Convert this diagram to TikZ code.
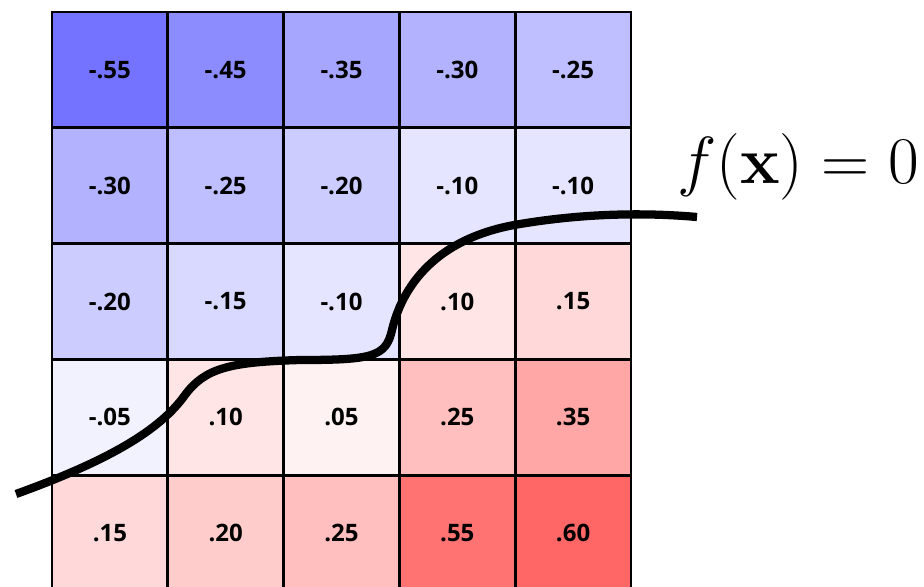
\RequirePackage{fix-cm}
\documentclass[tikz,border=0pt]{standalone}
\usepackage[no-math]{fontspec}
\setsansfont{Open Sans}
\begin{document}
\begin{tikzpicture}[x=0.75pt,y=-0.75pt,
  cell/.style={draw=black, line width=2.2pt, minimum width=115.8*0.75pt, minimum height=115.8*0.75pt, inner sep=0pt, font=\sffamily\bfseries\fontsize{18}{21}\selectfont},
  boundary/.style={line width=6.2pt, black}]
\clip (0,0) rectangle (924,586);
\def\cs{115.8}
\foreach \row/\vals in {1/{-55,-45,-35,-30,-25},2/{-30,-25,-20,-10,-10},3/{-20,-15,-10,10,15},4/{-5,10,5,25,35},5/{15,20,25,55,60}}{
  \foreach \v [count=\col] in \vals {
    \pgfmathsetmacro{\cx}{52+(\col-0.5)*\cs}
    \pgfmathsetmacro{\cy}{12+(\row-0.5)*\cs}
    \pgfmathtruncatemacro{\av}{abs(\v)}
    \ifnum\v<0
      \def\cc{blue!\av!white}
      \ifnum\av<10 \def\lbl{-.0\av}\else \def\lbl{-.\av}\fi
    \else
      \def\cc{red!\av!white}
      \ifnum\av<10 \def\lbl{.0\av}\else \def\lbl{.\av}\fi
    \fi
    \node[cell, fill=\cc] (c-\row-\col) at (\cx,\cy) {\lbl};
  }
}
\draw[boundary] (16,494) .. controls (110,460) and (160,430) .. (185,395)
  .. controls (205,368) and (230,362) .. (300,360)
  .. controls (372,360) and (386,357) .. (392,330)
  .. controls (398,305) and (420,240) .. (520,224)
  .. controls (580,214) and (640,212) .. (697,217);
\node[anchor=base, inner sep=0pt, font=\fontsize{50}{60}\selectfont] (eq) at (798,183) {$f(\mathbf{x}) = 0$};
\end{tikzpicture}
\end{document}
